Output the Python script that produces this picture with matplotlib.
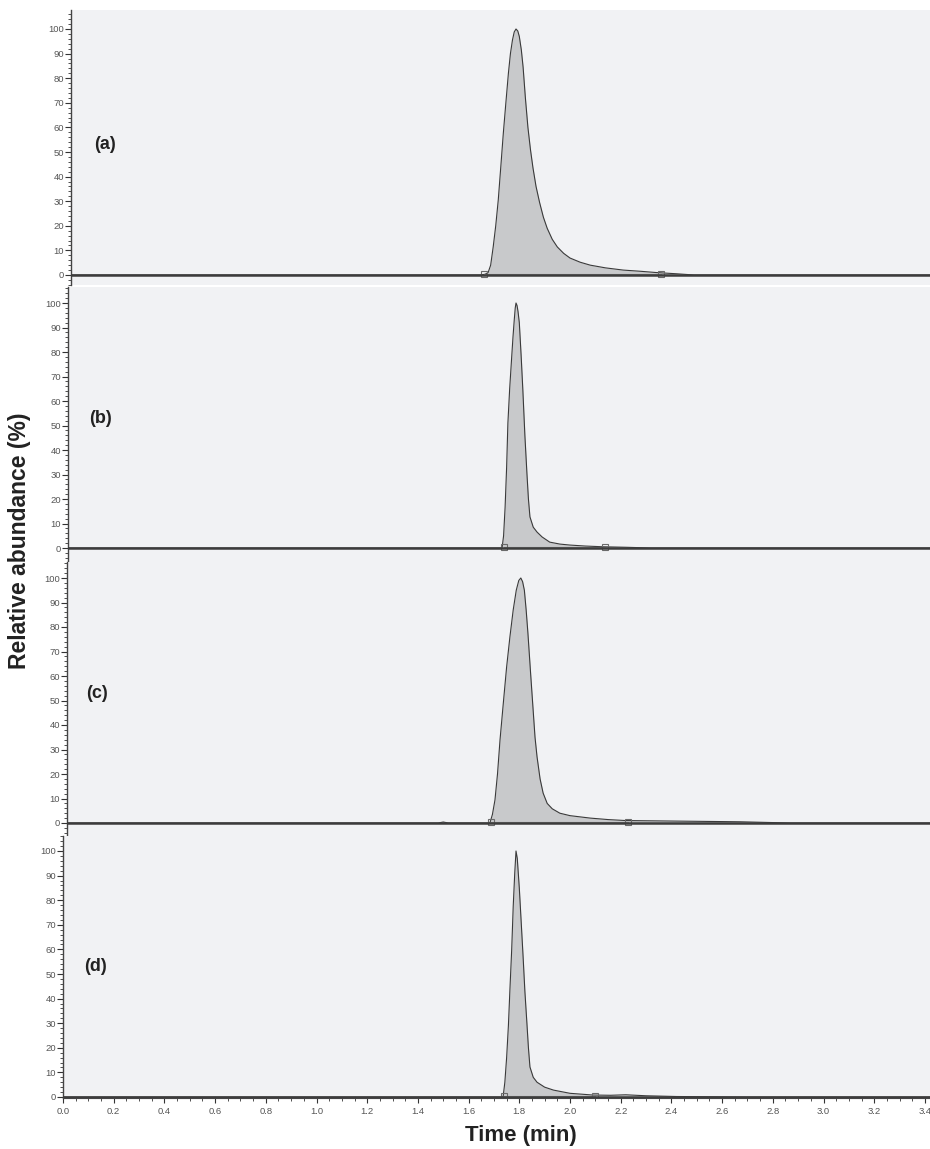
import matplotlib
matplotlib.use("Agg")
import matplotlib.pyplot as plt
from matplotlib.ticker import MultipleLocator, FormatStrFormatter

plt.rcParams["font.family"] = ["Liberation Sans", "DejaVu Sans"]

# Chromatogram traces (time in min, relative abundance in %)
time_a = [0.0, 1.645, 1.665, 1.677, 1.687, 1.697, 1.707, 1.717, 1.727, 1.737, 1.747,
          1.757, 1.765, 1.773, 1.780, 1.787, 1.794, 1.80, 1.808, 1.815, 1.824, 1.834,
          1.844, 1.854, 1.866, 1.88, 1.895, 1.91, 1.93, 1.95, 1.975, 2.0, 2.04, 2.08,
          2.14, 2.21, 2.28, 2.34, 2.42, 2.49, 3.42]
abund_a = [0, 0, 0.3, 1, 4, 11.4, 20, 30.5, 44, 57.7, 70,
           82, 90, 95.5, 98.8, 100, 99.2, 97, 91.5, 84.5, 72, 60,
           51, 43.5, 36, 29.5, 23.5, 19, 14.5, 11.4, 8.8, 6.9, 5.2, 4,
           2.9, 2, 1.5, 1, 0.5, 0, 0]

time_b = [0.0, 1.732, 1.738, 1.744, 1.75, 1.755, 1.762, 1.77, 1.775, 1.78, 1.784,
          1.787, 1.791, 1.795, 1.80, 1.807, 1.814, 1.822, 1.83, 1.836, 1.842, 1.855,
          1.87, 1.89, 1.92, 1.96, 2.0, 2.06, 2.13, 2.22, 2.32, 3.42]
abund_b = [0, 0, 5, 16.7, 33, 51, 65, 78, 86, 93, 98,
           100, 99, 96.5, 92, 79, 64.5, 46, 30.6, 20, 12.7, 8.5,
           6.5, 4.5, 2.4, 1.6, 1.2, 0.8, 0.5, 0.3, 0, 0]

time_c = [0.0, 1.48, 1.50, 1.52, 1.684, 1.694, 1.704, 1.714, 1.724, 1.737, 1.75,
          1.763, 1.776, 1.788, 1.798, 1.806, 1.813, 1.82, 1.827, 1.834, 1.844, 1.854,
          1.862, 1.87, 1.882, 1.894, 1.91, 1.93, 1.96, 2.0, 2.08, 2.15, 2.22, 2.4,
          2.67, 2.87, 3.42]
abund_c = [0, 0, 0.4, 0, 0, 3.5, 9.4, 20, 34, 49, 63.7,
           76, 87, 95, 99, 100, 98.5, 95, 87, 77.5, 62, 47,
           35, 27, 18, 12.2, 8, 5.8, 4, 3, 2, 1.4, 1, 0.8,
           0.5, 0, 0]

time_d = [0.0, 1.736, 1.743, 1.75, 1.757, 1.763, 1.77, 1.776, 1.782, 1.787, 1.792,
          1.80, 1.807, 1.815, 1.822, 1.83, 1.836, 1.842, 1.855, 1.87, 1.9, 1.935,
          2.0, 2.09, 2.16, 2.22, 2.3, 2.42, 2.7, 3.42]
abund_d = [0, 0, 6, 16, 29, 43.7, 60, 77.5, 91, 100, 97,
           85, 72, 57, 43, 30, 20, 12.2, 8, 6, 4, 2.8,
           1.5, 0.8, 0.7, 0.9, 0.5, 0.2, 0, 0]

# integration limits marked with small squares
limits_a = [1.66, 2.36]
limits_b = [1.74, 2.14]
limits_c = [1.69, 2.23]
limits_d = [1.74, 2.10]

panel_labels = ["(a)", "(b)", "(c)", "(d)"]
traces = [(time_a, abund_a, limits_a), (time_b, abund_b, limits_b),
          (time_c, abund_c, limits_c), (time_d, abund_d, limits_d)]

W, H = 930, 1149
fig = plt.figure(figsize=(W / 100, H / 100), dpi=100)

# pixel layout: left spine, top, bottom, y of 0 %, y of 100 %, label x
layout = [(71, 10, 285, 275, 29, 105),
          (68, 287, 562, 548, 303, 100),
          (67, 562, 836, 823, 578, 97),
          (63, 836, 1098, 1097, 851, 95)]
x0_px, px_per_min = 63, 253.5

for i, ((t, y, lims), (left, top, bottom, y0, y100, lx)) in enumerate(zip(traces, layout)):
    ax = fig.add_axes([left / W, 1 - bottom / H, (W - left) / W, (bottom - top) / H])
    ax.set_facecolor("#f1f2f4")
    scale = (y0 - y100) / 100
    ax.set_ylim(-(bottom - y0) / scale, 100 + (y100 - top) / scale)
    ax.set_xlim((left - x0_px) / px_per_min, (W - x0_px) / px_per_min)

    ax.fill_between(t, y, 0, color="#c8c9cb", lw=0)
    ax.plot(t, y, color="#3a3a3a", lw=0.8, solid_joinstyle="round")
    ax.plot(lims, [0.6, 0.6], color="#8a8a8a", lw=0.8)
    ax.plot(lims, [0.6, 0.6], ls="none", marker="s", ms=4, mfc="none",
            mec="#6a6a6a", mew=0.8)
    ax.axhline(0, color="#3c3c3c", lw=1.8, zorder=3)

    ax.text((lx - x0_px) / px_per_min, 53, panel_labels[i], fontsize=13,
            fontweight="bold", color="#222222", ha="center", va="center")

    for s in ["top", "right"]:
        ax.spines[s].set_visible(False)
    ax.spines["left"].set_color("#444444")
    ax.spines["left"].set_linewidth(1.0)

    ax.yaxis.set_major_locator(MultipleLocator(10))
    ax.yaxis.set_minor_locator(MultipleLocator(2))
    ax.tick_params(axis="y", which="major", length=4, width=0.8, color="#333333",
                   labelsize=6.8, labelcolor="#555555", pad=1)
    ax.tick_params(axis="y", which="minor", length=2.5, width=0.6, color="#333333")

    if i < 3:
        ax.spines["bottom"].set_visible(False)
        ax.tick_params(axis="x", which="both", bottom=False, labelbottom=False)
    else:
        ax.spines["bottom"].set_color("#444444")
        ax.xaxis.set_major_locator(MultipleLocator(0.2))
        ax.xaxis.set_minor_locator(MultipleLocator(0.05))
        ax.xaxis.set_major_formatter(FormatStrFormatter("%.1f"))
        ax.tick_params(axis="x", which="major", length=3.5, width=0.8, color="#333333",
                       labelsize=6.8, labelcolor="#555555", pad=3)
        ax.tick_params(axis="x", which="minor", length=2.5, width=0.6, color="#333333")
        ax.set_xlim(0.0, (W - x0_px) / px_per_min)

fig.text(521 / W, 1 - 1135 / H, "Time (min)", fontsize=16, fontweight="bold",
         color="#222222", ha="center", va="center")
fig.text(20 / W, 1 - 541 / H, "Relative abundance (%)", fontsize=16.5, fontweight="bold",
         color="#222222", ha="center", va="center", rotation=90)

fig.savefig("out.png", dpi=100, facecolor="white")
